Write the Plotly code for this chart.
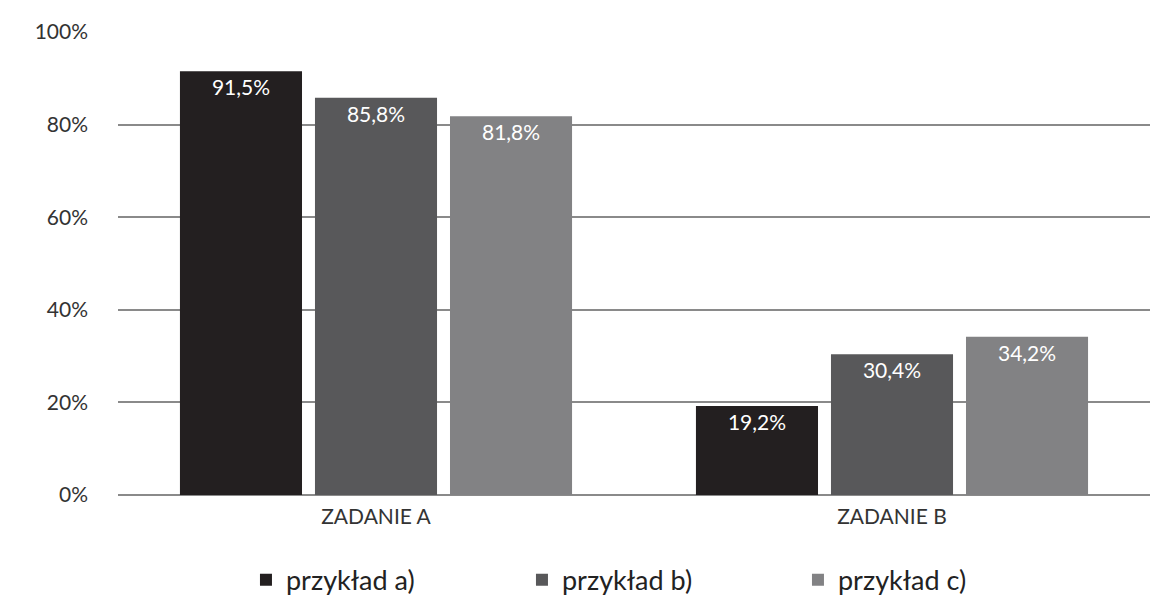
import plotly.graph_objects as go

categories = ["ZADANIE A", "ZADANIE B"]
series_names = ["przykład a)", "przykład b)", "przykład c)"]
series_values = [
    [91.5, 19.2],
    [85.8, 30.4],
    [81.8, 34.2],
]
series_colors = ["#231f20", "#58585a", "#828284"]
tick_vals = [0, 20, 40, 60, 80, 100]
tick_text = ["0%", "20%", "40%", "60%", "80%", "100%"]

font_family = "Lato, Open Sans, sans-serif"

fig = go.Figure()
for name, vals, color in zip(series_names, series_values, series_colors):
    fig.add_trace(go.Bar(
        x=categories,
        y=vals,
        name=name,
        marker=dict(color=color, line=dict(width=0)),
        text=[f"{v:.1f}%".replace(".", ",") for v in vals],
        textposition="inside",
        insidetextanchor="end",
        textangle=0,
        textfont=dict(color="white", size=21, family=font_family),
    ))

fig.update_layout(
    width=1174,
    height=597,
    margin=dict(l=118, r=24, t=32, b=102),
    paper_bgcolor="white",
    plot_bgcolor="white",
    barmode="group",
    bargap=0.215,
    bargroupgap=0.096,
    font=dict(family=font_family, color="#333333"),
    showlegend=True,
    legend=dict(
        orientation="h",
        x=0.124,
        xanchor="left",
        yref="container",
        y=0.028,
        yanchor="middle",
        font=dict(size=27, color="#222222", family=font_family),
        entrywidth=231,
        itemsizing="constant",
    ),
    uniformtext=dict(minsize=10, mode="show"),
)
fig.update_xaxes(
    showgrid=False,
    showline=False,
    ticks="",
    tickfont=dict(size=21, color="#333333"),
    ticklabelstandoff=7,
)
fig.update_yaxes(
    range=[0, 100],
    tickvals=tick_vals,
    ticktext=tick_text,
    showgrid=True,
    gridcolor="#8a8a8a",
    gridwidth=1.5,
    zeroline=True,
    zerolinecolor="#8a8a8a",
    zerolinewidth=1.5,
    showline=False,
    ticks="",
    tickfont=dict(size=21, color="#333333"),
    ticklabelstandoff=29,
)

fig.write_html("out.html")
